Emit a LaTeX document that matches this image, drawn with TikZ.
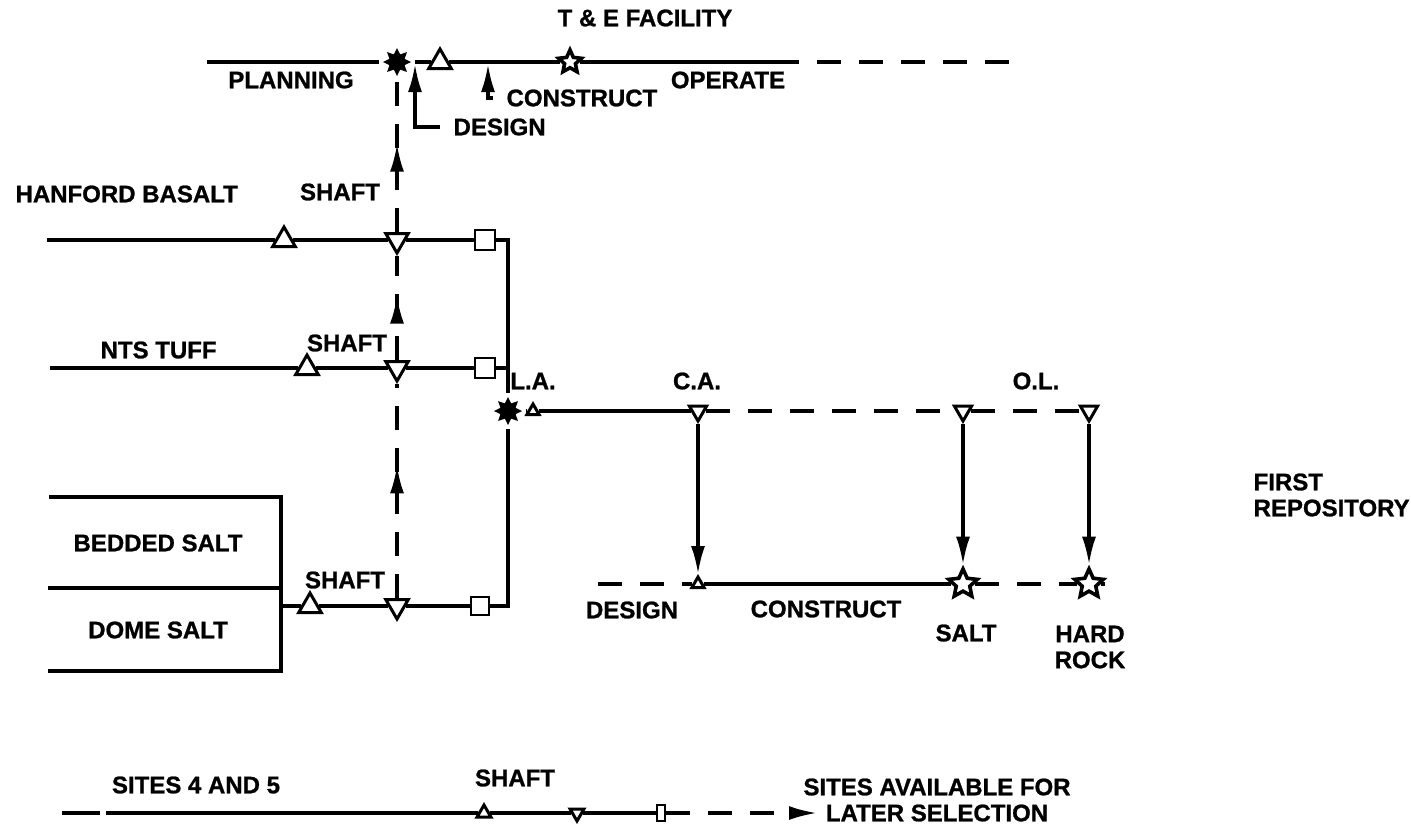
\documentclass[tikz,border=0pt]{standalone}
\usepackage{fontspec}
\setmainfont{Liberation Sans}[BoldFeatures={FakeBold=1}]
\usetikzlibrary{arrows.meta,shapes.geometric,decorations.markings}

\tikzset{
  lbl/.style={font=\fontsize{12}{13}\selectfont\bfseries,inner sep=1pt,align=center},
  uptri/.style={regular polygon,regular polygon sides=3,draw,fill=white,inner sep=0pt,minimum size=#1,line width=1.5pt},
  uptri/.default=13pt,
  dntri/.style={uptri=#1,shape border rotate=180},
  dntri/.default=13pt,
  sqbox/.style={rectangle,draw,fill=white,minimum size=#1,inner sep=0pt,line width=1.4pt},
  sqbox/.default=10pt,
  burst/.style={star,star points=8,star point ratio=1.7,fill,inner sep=0pt,minimum size=14pt},
  mstar/.style={star,star points=5,star point ratio=2.1,draw,fill=white,inner sep=0pt,minimum size=#1,line width=1.8pt},
  dline/.style={dash pattern=on 12pt off 9pt},
  midup/.style={postaction={decorate},decoration={markings,mark=at position #1 with {\arrow{Latex[length=14pt,width=7pt]}}}}
}

\begin{document}
\begin{tikzpicture}[x=0.5pt,y=-0.5pt,line width=1.6pt,>={Latex[length=14pt,width=7pt]}]
\useasboundingbox (0,0) rectangle (1411,827);

% T & E facility
\node[lbl] (teT) at (645,18) {T \& E FACILITY};
\coordinate (teL) at (207,62);
\node[burst] (teAst) at (397,62) {};
\node[uptri] (teTri) at (440,62) {};
\node[mstar=12pt] (teStar) at (570,62) {};
\coordinate (teEnd) at (775,62);
\coordinate (teFar) at (1010,62);
\coordinate (teDes) at (415,64);
\coordinate (teCon) at (488,64);
\draw (teL) -- (teAst) -- (teTri) -- (teStar) -- (teEnd);
\draw[dline] (teEnd) -- (teFar);
\node[lbl] (tPlan) at (291,80) {PLANNING};
\node[lbl] (tOper) at (728,80) {OPERATE};
\node[lbl,anchor=west,inner xsep=6pt] (tDes) at (440,127) {DESIGN};
\node[lbl,anchor=west,inner xsep=6pt] (tCon) at (493,98) {CONSTRUCT};
\draw[->] (tDes.west) -| (teDes);
\draw[->] (tCon.west) -| (teCon);

% sites
\coordinate (hL) at (47,240);
\node[uptri] (hTri) at (284,240) {};
\node[dntri] (hSh) at (397,240) {};
\node[sqbox] (hSq) at (485,240) {};
\node[lbl,anchor=west] (tHan) at (12,194) {HANFORD BASALT};
\node[lbl] (tHsh) at (340,192) {SHAFT};
\draw (hL) -- (hTri) -- (hSh) -- (hSq);

\coordinate (nL) at (50,368);
\node[uptri] (nTri) at (307,368) {};
\node[dntri] (nSh) at (397,368) {};
\node[sqbox] (nSq) at (485,368) {};
\node[lbl,anchor=west] (tNts) at (97,350) {NTS TUFF};
\node[lbl] (tNsh) at (347,343) {SHAFT};
\draw (nL) -- (nTri) -- (nSh) -- (nSq);

\draw (49,497) -- (281,497) -- (281,671) -- (48,671);
\draw (48,588) -- (281,588);
\node[lbl] (tBed) at (158,543) {BEDDED SALT};
\node[lbl] (tDome) at (158,630) {DOME SALT};
\coordinate (dL) at (281,606);
\node[uptri] (dTri) at (310,606) {};
\node[dntri] (dSh) at (397,606) {};
\node[sqbox=9pt] (dSq) at (480,606) {};
\node[lbl] (tDsh) at (345,580) {SHAFT};
\draw (dL) -- (dTri) -- (dSh) -- (dSq);

% shaft feedback to T & E
\draw[dline,midup=0.62] (dSh) -- (nSh);
\draw[dline,midup=0.62] (nSh) -- (hSh);
\draw[dline,midup=0.58] (hSh) -- (teAst);

% license application bus
\node[burst] (laAst) at (508,411) {};
\coordinate (busN) at (508,368);
\draw (hSq) -| (laAst);
\draw (dSq) -| (laAst);
\draw (nSq) -- (busN);

% first repository
\node[uptri=7pt] (laTri) at (533,411) {};
\node[dntri=10pt] (caTri) at (698,411) {};
\node[dntri=10pt] (olS) at (963,411) {};
\node[dntri=10pt] (olH) at (1089,411) {};
\node[lbl] (tLA) at (533,381) {L.A.};
\node[lbl] (tCA) at (697,381) {C.A.};
\node[lbl] (tOL) at (1036,381) {O.L.};
\draw (laAst) -- (laTri) -- (caTri);
\draw[dline] (caTri) -- (olS) -- (olH);

\coordinate (rL) at (598,584);
\node[uptri=7pt] (caB) at (698,584) {};
\node[mstar=15pt] (rS) at (963,584) {};
\node[mstar=15pt] (rH) at (1089,584) {};
\coordinate (rR) at (1105,584);
\draw[dline] (rL) -- (caB);
\draw (caB) -- (rS);
\draw[dline] (rS) -- (rH) -- (rR);
\draw[->] (caTri) -- (caB);
\draw[->] (olS) -- (rS);
\draw[->] (olH) -- (rH);
\node[lbl] (tRdes) at (632,610) {DESIGN};
\node[lbl] (tRcon) at (826,609) {CONSTRUCT};
\node[lbl] (tSalt) at (966,633) {SALT};
\node[lbl] (tHard) at (1090,647) {HARD\\ROCK};
\node[lbl,align=left,anchor=west] (tFirst) at (1250,495) {FIRST\\REPOSITORY};

% later sites
\node[lbl] (tS45) at (196,785) {SITES 4 AND 5};
\node[lbl] (tBsh) at (515,778) {SHAFT};
\coordinate (sL) at (62,813);
\coordinate (sM) at (100,813);
\coordinate (sN) at (106,813);
\node[uptri=8pt] (sTri) at (484,813) {};
\node[dntri=8pt] (sSh) at (577,813) {};
\node[sqbox,minimum width=4pt,minimum height=8pt] (sSq) at (661,813) {};
\coordinate (sR) at (817,813);
\draw (sL) -- (sM);
\draw (sN) -- (sTri) -- (sSh) -- (sSq);
\draw[dline,->] (sSq) -- (sR);
\node[lbl] (tLater) at (937,800) {SITES AVAILABLE FOR\\LATER SELECTION};
\end{tikzpicture}
\end{document}
